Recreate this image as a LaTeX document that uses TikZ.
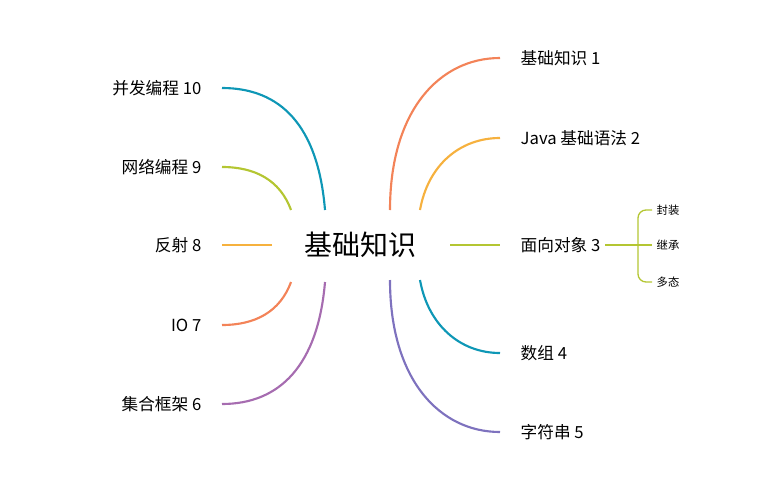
\documentclass[tikz,border=0pt]{standalone}
\usepackage{fontspec}
\setmainfont{Noto Sans CJK SC}
\usetikzlibrary{positioning}
\definecolor{cA}{HTML}{F38358}
\definecolor{cB}{HTML}{F6B13E}
\definecolor{cC}{HTML}{B4C632}
\definecolor{cD}{HTML}{0E97B6}
\definecolor{cE}{HTML}{7E72BE}
\definecolor{cF}{HTML}{A66CB0}
\tikzset{
  branch/.style={line width=1.6pt},
  rlabel/.style={anchor=west, font=\fontsize{12.5}{14}\selectfont},
  llabel/.style={anchor=east, font=\fontsize{12.5}{14}\selectfont},
  sublabel/.style={anchor=west, font=\fontsize{8.5}{10}\selectfont}
}
\begin{document}
\begin{tikzpicture}[x=0.75pt, y=-0.75pt]
  \useasboundingbox (0,0) rectangle (780,485);
  % centre
  \node (root) at (360,245) {\fontsize{21}{24}\selectfont 基础知识};
  % right side
  \node[rlabel] (r1) at (516,58) {基础知识 1};
  \node[rlabel] (r2) at (516,138) {Java 基础语法 2};
  \node[rlabel] (r3) at (516,245) {面向对象 3};
  \node[rlabel] (r4) at (516,353) {数组 4};
  \node[rlabel] (r5) at (516,432) {字符串 5};
  \coordinate (s1) at (390,210); \coordinate (e1) at (500,58);
  \coordinate (s2) at (420,210); \coordinate (e2) at (500,138);
  \coordinate (s3) at (450,245); \coordinate (e3) at (500,245);
  \coordinate (s4) at (420,280); \coordinate (e4) at (500,353);
  \coordinate (s5) at (390,280); \coordinate (e5) at (500,432);
  \draw[branch, cA] (s1) .. controls (390,110) and (440,58) .. (e1);
  \draw[branch, cB] (s2) .. controls (428,165) and (460,138) .. (e2);
  \draw[branch, cC] (s3) -- (e3);
  \draw[branch, cD] (s4) .. controls (428,325) and (460,353) .. (e4);
  \draw[branch, cE] (s5) .. controls (390,380) and (440,432) .. (e5);
  % sub topics
  \node[sublabel] (k1) at (652,210) {封装};
  \node[sublabel] (k2) at (652,245) {继承};
  \node[sublabel] (k3) at (652,282) {多态};
  \draw[cC, line width=1pt] (r3.east) -- (k2.west);
  \draw[cC, line width=1pt, rounded corners=6pt] (k1.west) -- (638,210) -- (638,282) -- (k3.west);
  % left side
  \node[llabel] (l10) at (206,88) {并发编程 10};
  \node[llabel] (l9) at (206,167) {网络编程 9};
  \node[llabel] (l8) at (206,245) {反射 8};
  \node[llabel] (l7) at (206,325) {IO 7};
  \node[llabel] (l6) at (206,404) {集合框架 6};
  \coordinate (t10) at (325,210); \coordinate (f10) at (222,88);
  \coordinate (t9) at (291,210); \coordinate (f9) at (222,167);
  \coordinate (t8) at (272,245); \coordinate (f8) at (222,245);
  \coordinate (t7) at (291,282); \coordinate (f7) at (222,325);
  \coordinate (t6) at (325,282); \coordinate (f6) at (222,404);
  \draw[branch, cD] (t10) .. controls (318,125) and (280,88) .. (f10);
  \draw[branch, cC] (t9) .. controls (280,180) and (255,167) .. (f9);
  \draw[branch, cB] (t8) -- (f8);
  \draw[branch, cA] (t7) .. controls (280,312) and (255,325) .. (f7);
  \draw[branch, cF] (t6) .. controls (318,365) and (280,404) .. (f6);
\end{tikzpicture}
\end{document}
